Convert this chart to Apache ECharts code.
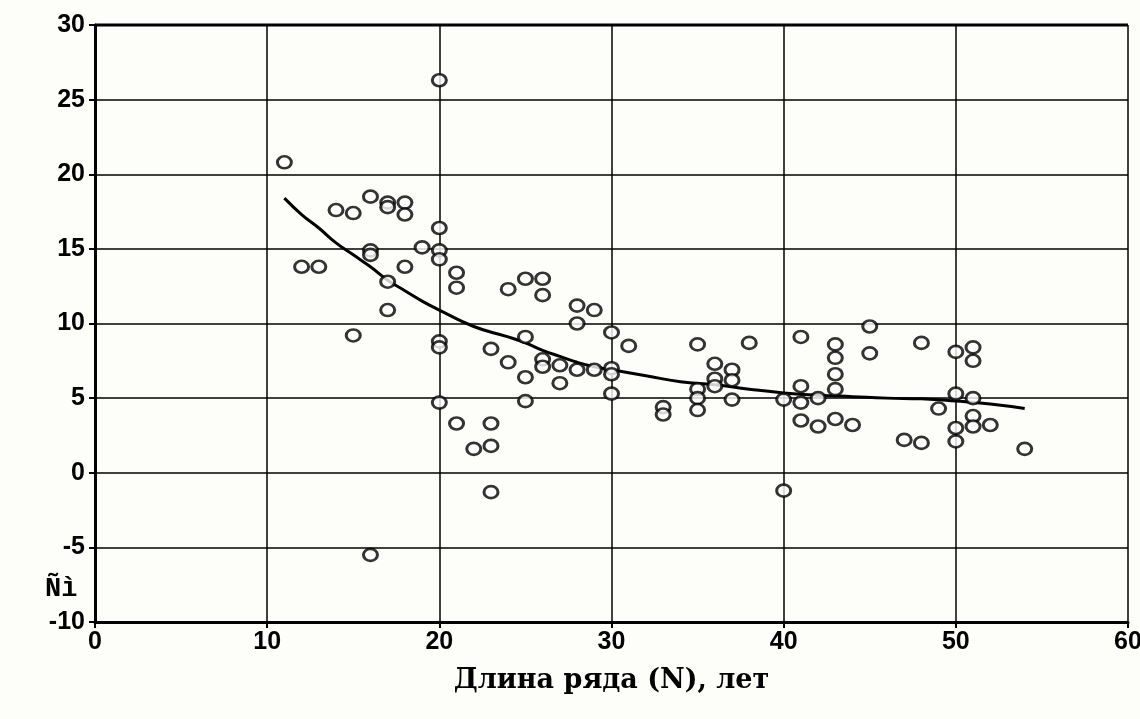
<!DOCTYPE html>
<html>
<head>
<meta charset="utf-8">
<script src="https://cdn.jsdelivr.net/npm/echarts@6/dist/echarts.min.js"></script>
<style>
html,body{margin:0;padding:0;background:#fdfdf9;}
#chart{width:1140px;height:719px;}
</style>
</head>
<body>
<div id="chart"></div>
<script>
// Observed points: series length N (years) and value Ci
var pointN = [11,12,13,14,15,15,16,16,16,16,17,17,17,17,18,18,18,19,
  20,20,20,20,20,20,20,21,21,21,22,23,23,23,23,24,24,25,25,25,25,
  26,26,26,26,27,27,28,28,28,29,29,30,30,30,30,31,33,33,35,35,35,35,
  36,36,36,37,37,37,38,40,40,41,41,41,41,42,42,43,43,43,43,43,44,
  45,45,47,48,48,49,50,50,50,50,51,51,51,51,51,52,54];
var pointC = [20.8,13.8,13.8,17.6,17.4,9.2,18.5,14.9,14.6,-5.5,18.1,17.8,12.8,10.9,18.1,17.3,13.8,15.1,
  26.3,16.4,14.9,14.3,8.8,8.4,4.7,13.4,12.4,3.3,1.6,8.3,3.3,1.8,-1.3,12.3,7.4,13.0,9.1,6.4,4.8,
  13.0,11.9,7.6,7.1,7.2,6.0,11.2,10.0,6.9,10.9,6.9,9.4,7.0,6.6,5.3,8.5,4.4,3.9,8.6,5.6,5.0,4.2,
  7.3,6.3,5.8,6.9,6.2,4.9,8.7,4.9,-1.2,9.1,5.8,4.7,3.5,5.0,3.1,8.6,7.7,6.6,5.6,3.6,3.2,
  9.8,8.0,2.2,8.7,2.0,4.3,8.1,5.3,3.0,2.1,8.4,7.5,5.0,3.8,3.1,3.2,1.6];

// Trend curve
var trendN = [11,12,13,14,15,16,17,18,19,20,22,24,25,26,27,28,29,30,32,34,36,38,40,42,44,46,48,50,52,54];
var trendC = [18.4,17.3,16.4,15.4,14.6,13.8,12.9,12.2,11.5,10.9,9.8,9.1,8.7,8.2,7.8,7.4,7.1,6.9,6.5,6.1,5.9,5.6,5.35,5.2,5.1,5.0,4.95,4.8,4.6,4.3];

var xTicks = [0,10,20,30,40,50,60];
var yTicks = [-10,-5,0,5,10,15,20,25,30];

var scatterData = pointN.map(function(n,i){return [n, pointC[i]];});
var trendData = trendN.map(function(n,i){return [n, trendC[i]];});

var chart = echarts.init(document.getElementById('chart'));
var labelFont = {color:'#000', fontFamily:'Liberation Sans, Arial, sans-serif', fontWeight:'bold', fontSize:25};
chart.setOption({
  backgroundColor:'#fdfdf9',
  animation:false,
  grid:{left:95, right:12, top:25, bottom:97, containLabel:false, outerBoundsMode:'none'},
  xAxis:{
    type:'value', min:xTicks[0], max:xTicks[xTicks.length-1], interval:10,
    axisLine:{show:true, onZero:false, lineStyle:{color:'#000', width:3}},
    axisTick:{show:true, length:6, lineStyle:{color:'#000', width:2}},
    axisLabel:Object.assign({margin:8}, labelFont),
    splitLine:{show:true, lineStyle:{color:'#000', width:1.5}},
    name:'Длина ряда (N), лет', nameLocation:'middle', nameGap:45,
    nameTextStyle:{color:'#000', fontFamily:'DejaVu Serif, serif', fontWeight:'bold', fontSize:27}
  },
  yAxis:{
    type:'value', min:yTicks[0], max:yTicks[yTicks.length-1], interval:5,
    axisLine:{show:true, onZero:false, lineStyle:{color:'#000', width:3}},
    axisTick:{show:true, length:6, lineStyle:{color:'#000', width:2}},
    axisLabel:Object.assign({margin:10}, labelFont),
    splitLine:{show:true, lineStyle:{color:'#000', width:1.5}}
  },
  graphic:[
    {type:'text', left:45, top:576, style:{text:'Ñì', fill:'#000', font:'bold 27px "Liberation Mono", "Courier New", monospace'}},
    {type:'line', shape:{x1:95, y1:25, x2:1128, y2:25}, style:{stroke:'#000', lineWidth:3}, z:10}
  ],
  series:[
    {
      type:'line', data:trendData, smooth:true, showSymbol:false, symbol:'none',
      lineStyle:{color:'#000', width:3}, z:2
    },
    {
      type:'scatter', data:scatterData, symbol:'circle', symbolSize:[14,12],
      itemStyle:{color:'#ffffff', borderColor:'#000', borderWidth:2.8}, z:3
    }
  ]
});
</script>
</body>
</html>
